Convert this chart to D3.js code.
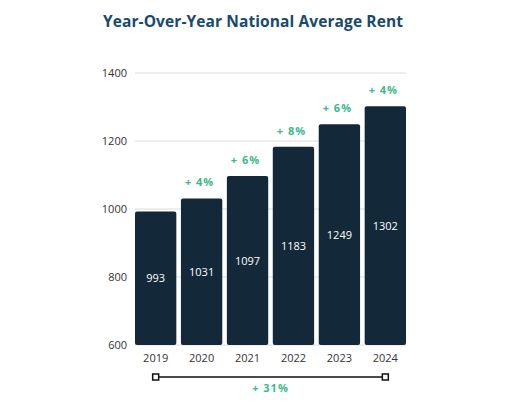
<!DOCTYPE html>
<meta charset="utf-8">
<script src="https://d3js.org/d3.v7.min.js"></script>
<style>
body { margin: 0; background: #fff; }
text { font-family: "Open Sans", "Noto Sans", sans-serif; }
</style>
<body>
<div id="chart"></div>
</body>
<script>
// data
const years = ["2019", "2020", "2021", "2022", "2023", "2024"];
const rent = [993, 1031, 1097, 1183, 1249, 1302];
const change = ["", "+ 4%", "+ 6%", "+ 8%", "+ 6%", "+ 4%"];
const yTicks = [600, 800, 1000, 1200, 1400];
const totalChange = "+ 31%";

const W = 518, H = 406;
const margin = {top: 73, right: 112, bottom: 61, left: 135};
const width = W - margin.left - margin.right,
  height = H - margin.top - margin.bottom;

const svg = d3.select("#chart").append("svg")
  .attr("width", W)
  .attr("height", H);

svg.append("text")
  .attr("x", 253)
  .attr("y", 27)
  .attr("text-anchor", "middle")
  .style("font-size", "15.5px")
  .style("font-weight", "bold")
  .style("letter-spacing", "0.1px")
  .style("fill", "#174a6c")
  .text("Year-Over-Year National Average Rent");

const g = svg.append("g")
  .attr("transform", `translate(${margin.left},${margin.top})`);

const x = d3.scaleBand().domain(years).range([0, width]).paddingInner(0.1).paddingOuter(0);
const y = d3.scaleLinear().domain([600, 1400]).range([height, 0]);

// gridlines
g.append("g")
  .selectAll("line")
  .data(yTicks)
  .join("line")
    .attr("x1", 0)
    .attr("x2", width)
    .attr("y1", d => y(d))
    .attr("y2", d => y(d))
    .style("stroke", "#dcdcdc")
    .style("stroke-width", 1);

// y axis labels
const yAxis = g.append("g")
  .call(d3.axisLeft(y).tickValues(yTicks).tickFormat(d3.format("d")).tickSize(0).tickPadding(8));
yAxis.select(".domain").remove();
yAxis.selectAll("text")
  .style("font-size", "11px")
  .style("fill", "#333");

// x axis labels
const xAxis = g.append("g")
  .attr("transform", `translate(0,${height})`)
  .call(d3.axisBottom(x).tickSize(0).tickPadding(9));
xAxis.select(".domain").remove();
xAxis.selectAll("text")
  .style("font-size", "11px")
  .style("fill", "#333");

// bars
g.selectAll("rect.bar")
  .data(rent)
  .join("rect")
    .attr("class", "bar")
    .attr("x", (d, i) => x(years[i]))
    .attr("y", d => y(d))
    .attr("width", x.bandwidth())
    .attr("height", d => height - y(d))
    .attr("rx", 2)
    .style("fill", "#132838");

// values inside bars
g.selectAll("text.val")
  .data(rent)
  .join("text")
    .attr("class", "val")
    .attr("x", (d, i) => x(years[i]) + x.bandwidth() / 2)
    .attr("y", d => (y(d) + height) / 2 + 4)
    .attr("text-anchor", "middle")
    .style("font-size", "11px")
    .style("fill", "#fff")
    .text(d => d);

// year-over-year change above bars
g.selectAll("text.pct")
  .data(rent)
  .join("text")
    .attr("class", "pct")
    .attr("x", (d, i) => x(years[i]) + x.bandwidth() / 2 - 2)
    .attr("y", d => y(d) - 12)
    .attr("text-anchor", "middle")
    .style("font-size", "11px")
    .style("font-weight", "bold")
    .style("letter-spacing", "1px")
    .style("fill", "#3cb98a")
    .text((d, i) => change[i]);

// overall change bracket
const bx1 = x(years[0]) + x.bandwidth() / 2,
  bx2 = x(years[years.length - 1]) + x.bandwidth() / 2,
  by = height + 32;
g.append("line")
  .attr("x1", bx1).attr("x2", bx2)
  .attr("y1", by).attr("y2", by)
  .style("stroke", "#111")
  .style("stroke-width", 1.5);
g.selectAll("rect.end")
  .data([bx1, bx2])
  .join("rect")
    .attr("class", "end")
    .attr("x", d => d - 3)
    .attr("y", by - 3)
    .attr("width", 6)
    .attr("height", 6)
    .style("fill", "#fff")
    .style("stroke", "#111")
    .style("stroke-width", 1.5);
g.append("text")
  .attr("x", (bx1 + bx2) / 2)
  .attr("y", by + 15)
  .attr("text-anchor", "middle")
  .style("font-size", "11px")
  .style("font-weight", "bold")
  .style("letter-spacing", "1px")
  .style("fill", "#3cb98a")
  .text(totalChange);
</script>
